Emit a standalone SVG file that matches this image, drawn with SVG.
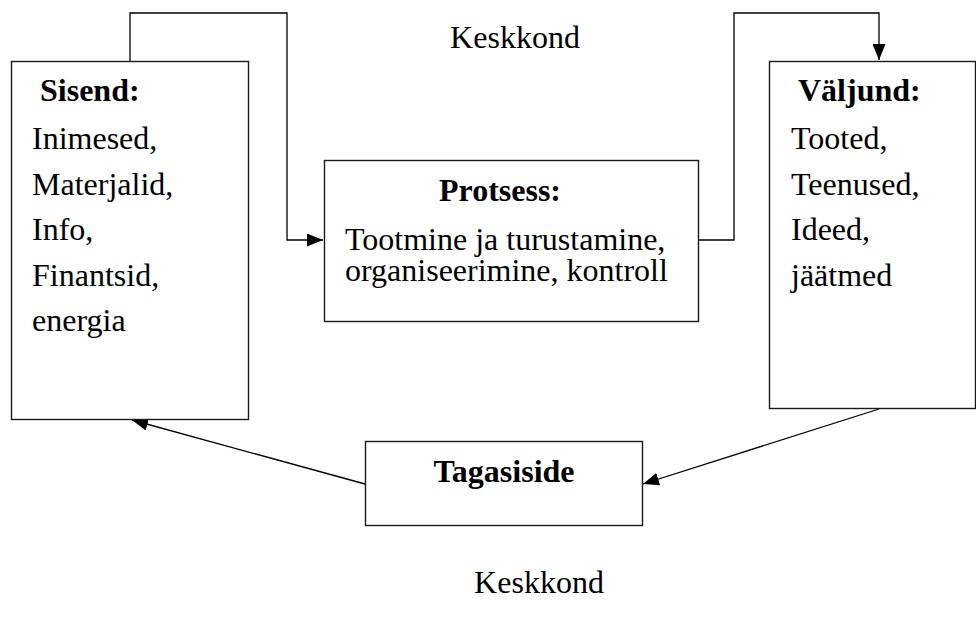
<svg xmlns="http://www.w3.org/2000/svg" width="976" height="621" viewBox="0 0 976 621">
<style>
.box{fill:#fff;stroke:#1a1a1a;stroke-width:1.4}
.t{font-family:"Liberation Serif","Times New Roman",serif;font-size:32px;fill:#000}
.b{font-weight:bold}
.c{fill:none;stroke:#000;stroke-width:1.3}
</style>
<defs>
<marker id="ah" markerUnits="userSpaceOnUse" markerWidth="17" markerHeight="13" refX="16" refY="6.5" orient="auto">
<path d="M0,0 L16,6.5 L0,13 z" fill="#000"/>
</marker>
</defs>
<rect width="976" height="621" fill="#fff"/>
<g id="connectors">
<polyline class="c" points="130,61 130,13 287,13 287,240 323,240" marker-end="url(#ah)"/>
<polyline class="c" points="699,240 734,240 734,13 879,13 879,60" marker-end="url(#ah)"/>
<line class="c" x1="879" y1="409" x2="643" y2="484" marker-end="url(#ah)"/>
<line class="c" x1="365" y1="484" x2="132" y2="420" marker-end="url(#ah)"/>
</g>
<g id="sisend">
<rect class="box" x="11.5" y="61.5" width="237" height="358"/>
<text class="t b" x="40" y="101">Sisend:</text>
<text class="t" x="32" y="149">Inimesed,</text>
<text class="t" x="32" y="194.5">Materjalid,</text>
<text class="t" x="32" y="240">Info,</text>
<text class="t" x="32" y="285.5">Finantsid,</text>
<text class="t" x="32" y="331">energia</text>
</g>
<g id="protsess">
<rect class="box" x="324.5" y="160.5" width="374" height="161"/>
<text class="t b" x="500" y="201" text-anchor="middle">Protsess:</text>
<text class="t" x="345" y="250">Tootmine ja turustamine,</text>
<text class="t" x="345" y="281">organiseerimine, kontroll</text>
</g>
<g id="valjund">
<rect class="box" x="769.5" y="61.5" width="206" height="347"/>
<text class="t b" x="798" y="101">Väljund:</text>
<text class="t" x="791" y="149">Tooted,</text>
<text class="t" x="791" y="194.5">Teenused,</text>
<text class="t" x="791" y="240">Ideed,</text>
<text class="t" x="791" y="285.5">jäätmed</text>
</g>
<g id="tagasiside">
<rect class="box" x="365.5" y="441.5" width="277" height="84"/>
<text class="t b" x="504" y="482" text-anchor="middle">Tagasiside</text>
</g>
<g id="keskkond-top">
<text class="t" x="515" y="48" text-anchor="middle">Keskkond</text>
</g>
<g id="keskkond-bottom">
<text class="t" x="539" y="593" text-anchor="middle">Keskkond</text>
</g>
</svg>
